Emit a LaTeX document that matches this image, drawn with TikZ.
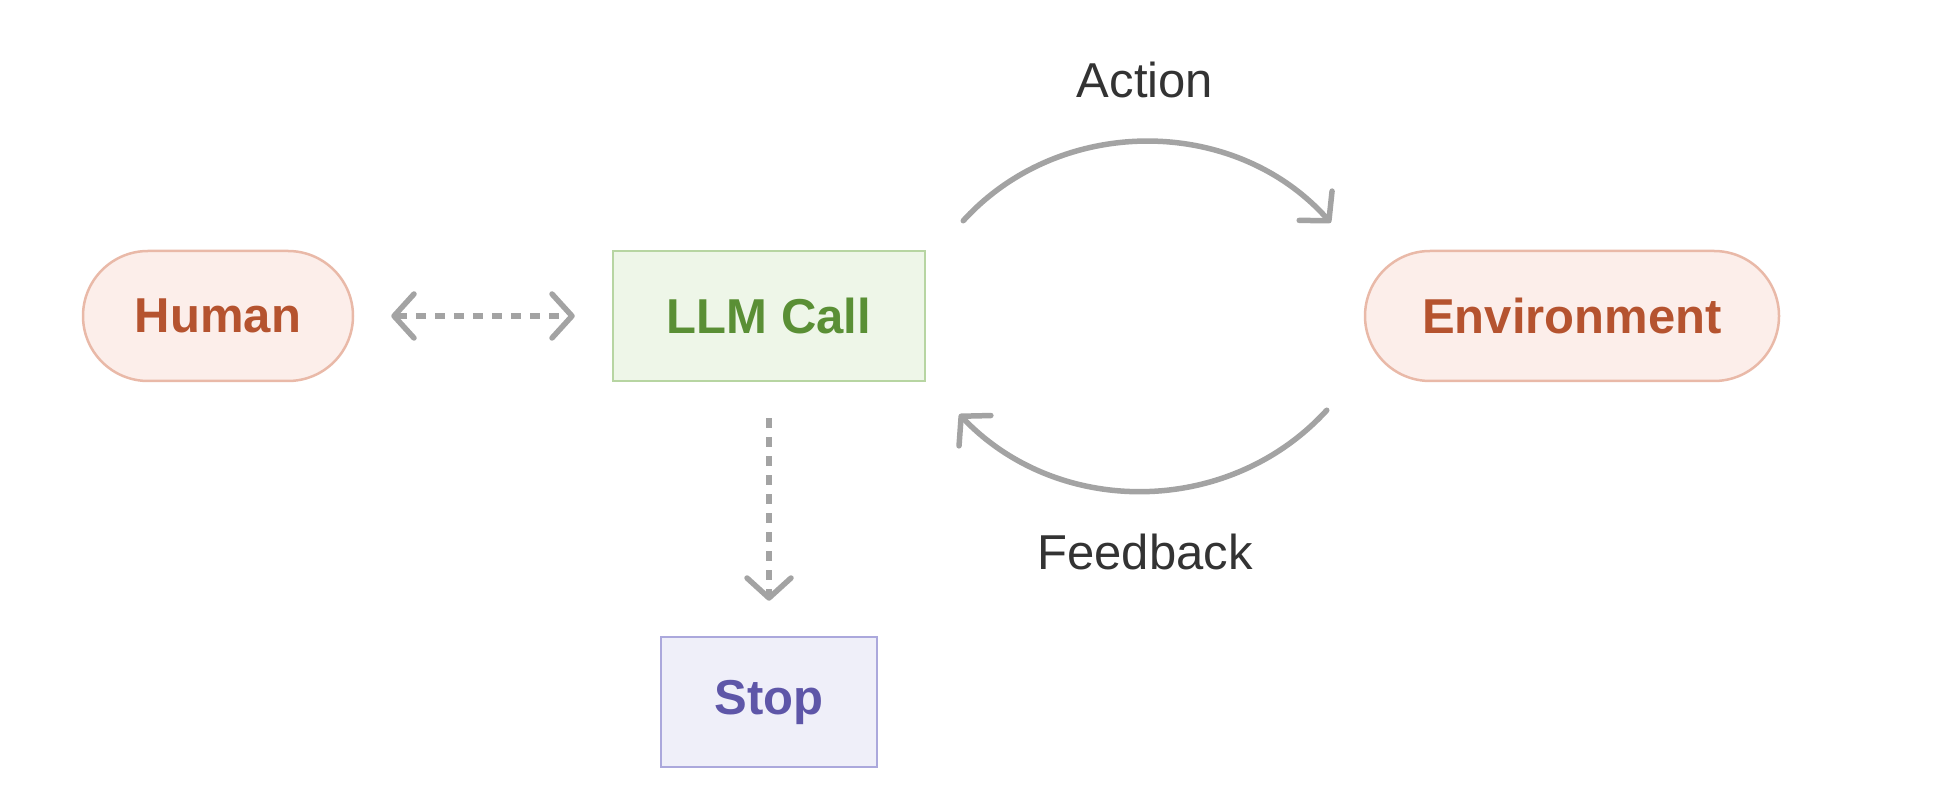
\documentclass[tikz,border=0pt]{standalone}
\usepackage{fontspec}
\setmainfont{Liberation Sans}
\usetikzlibrary{calc}
\usetikzlibrary{arrows.meta}
\definecolor{pillfill}{HTML}{FCEEEA}
\definecolor{pillline}{HTML}{E9B9A8}
\definecolor{pilltext}{HTML}{B5532F}
\definecolor{llmfill}{HTML}{EEF6E8}
\definecolor{llmline}{HTML}{B7D5A2}
\definecolor{llmtext}{HTML}{5A8F35}
\definecolor{stopfill}{HTML}{EFEFF9}
\definecolor{stopline}{HTML}{ABA8DC}
\definecolor{stoptext}{HTML}{5E56A8}
\definecolor{arrowgray}{HTML}{A3A3A3}
\definecolor{labelgray}{HTML}{333333}
\tikzset{
  boxfont/.style={font=\fontsize{49}{59}\selectfont\bfseries},
  pill/.style={boxfont, rounded corners=65pt, minimum height=130pt, inner sep=0pt,
    line width=2.5pt, draw=pillline, fill=pillfill, text=pilltext},
  box/.style={boxfont, minimum height=130pt, inner sep=0pt, line width=2.5pt},
  lbl/.style={font=\fontsize{49}{59}\selectfont, text=labelgray},
  barb/.tip={Straight Barb[length=20pt,width=44pt,round,line width=5.5pt]},
  flow/.style={line width=5.5pt, draw=arrowgray, line cap=round, -barb},
  dash flow/.style={flow, dash pattern=on 10pt off 9pt, line cap=butt}
}
\begin{document}
\begin{tikzpicture}[x=1pt,y=1pt]
            \useasboundingbox (0,0) rectangle (1933,806);
            \node[pill, minimum width=270pt] (human) at (218,490) {Human};
            \node[box, minimum width=312pt, draw=llmline, fill=llmfill, text=llmtext] (llm) at (769,490) {LLM Call};
            \node[pill, minimum width=414pt] (env) at (1572,490) {Environment};
            \node[box, minimum width=216pt, draw=stopline, fill=stopfill, text=stoptext] (stop) at (769,104) {Stop};
            \node[lbl] (action) at (1145,726) {Action};
            \node[lbl] (feedback) at (1145,254) {Feedback};
            \coordinate (act0) at ($(llm.north east)+(37,29)$);
            \coordinate (act1) at ($(env.north west)+(-33,27)$);
            \coordinate (fb0) at ($(env.south west)+(-37,-28)$);
            \coordinate (fb1) at ($(llm.south east)+(33,-32)$);
            \draw[dash flow, barb-barb, shorten <=37pt, shorten >=37pt] (human) -- (llm);
            \draw[dash flow, shorten <=36pt, shorten >=35pt] (llm) -- (stop);
            \draw[flow] (act0) to[bend left=48] (act1);
            \draw[flow] (fb0) to[bend left=47] (fb1);
        \end{tikzpicture}
\end{document}
